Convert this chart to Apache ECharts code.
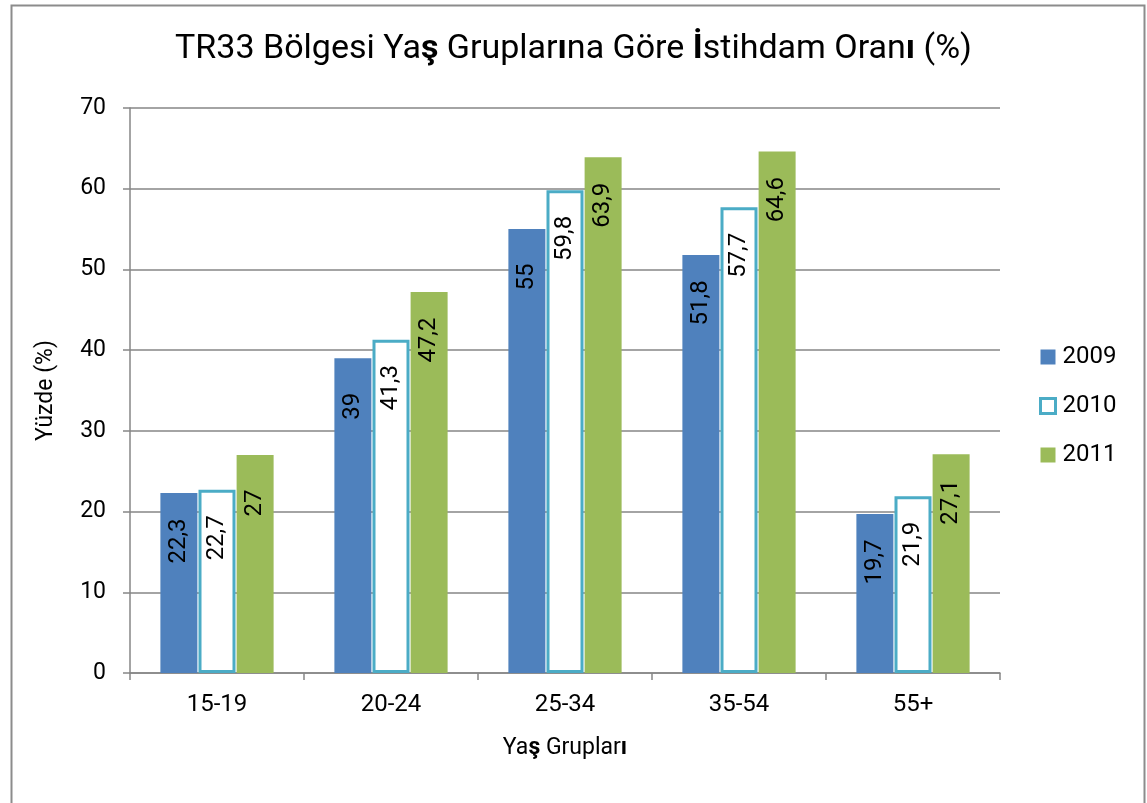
<!DOCTYPE html>
<html>
<head>
<meta charset="utf-8">
<script src="https://cdn.jsdelivr.net/npm/echarts@6/dist/echarts.min.js"></script>
<style>html,body{margin:0;padding:0;background:#fff;}#c{width:1147px;height:803px;}</style>
</head>
<body>
<div id="c"></div>
<script>
var categories = ['15-19', '20-24', '25-34', '35-54', '55+'];
var seriesNames = ['2009', '2010', '2011'];
var values2009 = [22.3, 39, 55, 51.8, 19.7];
var values2010 = [22.7, 41.3, 59.8, 57.7, 21.9];
var values2011 = [27, 47.2, 63.9, 64.6, 27.1];
var yTicks = [0, 10, 20, 30, 40, 50, 60, 70];

var FONT = 'Roboto, "Open Sans", sans-serif';

function fmt(p) { return String(p.value).replace('.', ','); }
function labelCfg() {
  return {
    show: true, rotate: 90, position: ['50%', 48], align: 'center', verticalAlign: 'middle',
    formatter: fmt, color: '#000', fontSize: 24, fontFamily: FONT
  };
}

var chart = echarts.init(document.getElementById('c'), null, { renderer: 'canvas' });
chart.setOption({
  backgroundColor: '#fff',
  animation: false,
  graphic: [{
    type: 'rect', left: 9, top: 3, z: -1,
    shape: { x: 0, y: 0, width: 1133, height: 830 },
    style: { fill: 'none', stroke: '#8c8c8c', lineWidth: 2 }
  }],
  title: {
    text: 'TR33 Bölgesi Ya{b|ş} Gruplar{b|ı}na Göre {b|İ}stihdam Oran{b|ı} (%)',
    left: 'center', top: 27,
    textStyle: {
      fontSize: 34, fontWeight: 'normal', color: '#000', fontFamily: FONT,
      rich: { b: { fontSize: 34, fontWeight: 'bold', fontFamily: FONT, color: '#000' } }
    }
  },
  legend: {
    orient: 'vertical', left: 1034, top: 340, itemGap: 25,
    itemWidth: 15, itemHeight: 15, icon: 'rect',
    textStyle: { fontSize: 24, fontFamily: FONT, color: '#000', padding: [0, 0, 0, 2] },
    data: [
      { name: seriesNames[0] },
      { name: seriesNames[1], itemStyle: { color: '#FFFFFF', borderColor: '#4BACC6', borderWidth: 3 } },
      { name: seriesNames[2] }
    ]
  },
  grid: { left: 130, right: 147, top: 108, bottom: 130 },
  xAxis: {
    type: 'category', data: categories,
    name: 'Ya{b|ş} Gruplar{b|ı}', nameLocation: 'middle', nameGap: 64,
    nameTextStyle: { fontSize: 23, color: '#000', fontFamily: FONT,
      rich: { b: { fontSize: 23, fontWeight: 'bold', fontFamily: FONT, color: '#000' } } },
    axisLine: { lineStyle: { color: '#868686', width: 1.5 } },
    axisTick: { show: true, length: 7, lineStyle: { color: '#868686', width: 1.5 } },
    axisLabel: { fontSize: 24, color: '#000', fontFamily: FONT, margin: 20 }
  },
  yAxis: {
    type: 'value', min: 0, max: 70, interval: 10,
    name: 'Yüzde (%)', nameLocation: 'middle', nameGap: 72,
    nameTextStyle: { fontSize: 23, color: '#000', fontFamily: FONT },
    axisLine: { show: true, lineStyle: { color: '#868686', width: 1.5 } },
    axisTick: { show: true, length: 7, lineStyle: { color: '#868686', width: 1.5 } },
    axisLabel: { fontSize: 23, color: '#000', fontFamily: FONT, margin: 24,
      formatter: function (v) { return yTicks.indexOf(v) >= 0 ? String(v) : ''; } },
    splitLine: { lineStyle: { color: '#868686', width: 1.5 } }
  },
  series: [
    { name: seriesNames[0], type: 'bar', data: values2009, barWidth: 37, barGap: '3%',
      itemStyle: { color: '#4F81BD' }, label: labelCfg() },
    { name: seriesNames[1], type: 'bar', data: values2010, barWidth: 37, barGap: '3%',
      itemStyle: { color: '#FFFFFF', borderColor: '#4BACC6', borderWidth: 3 }, label: labelCfg() },
    { name: seriesNames[2], type: 'bar', data: values2011, barWidth: 37, barGap: '3%',
      itemStyle: { color: '#9BBB59' }, label: labelCfg() }
  ]
});
</script>
</body>
</html>
